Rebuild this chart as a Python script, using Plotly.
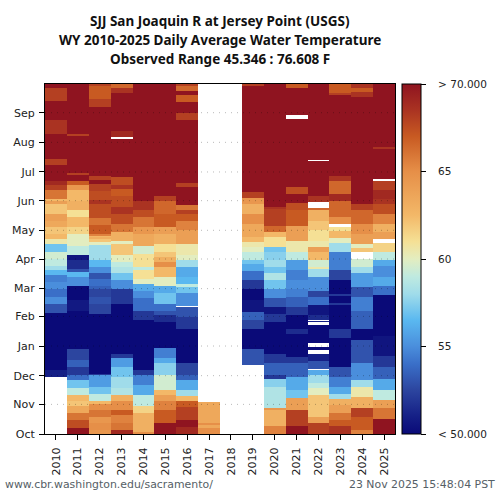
import numpy as np
import plotly.graph_objects as go

# Water years on the x axis, day of water year (0 = 1 Oct) on the y axis.
years = list(range(2010, 2026))
month_days = [0, 31, 61, 92, 123, 152, 183, 213, 244, 274, 305, 336]
month_labels = ["Oct", "Nov", "Dec", "Jan", "Feb", "Mar", "Apr", "May", "Jun", "Jul", "Aug", "Sep"]
title_lines = ["SJJ San Joaquin R at Jersey Point (USGS)",
               "WY 2010-2025 Daily Average Water Temperature",
               "Observed Range 45.346 : 76.608 F"]

# Each year: (last day of the run, temperature F), None where there is no data.
wy2010 = [(60, None), (67, 51), (127, 50), (136, 53), (143, 55), (152, 54), (159, 55), (166, 54.5), (171, 56.5),
          (176, 58), (183, 59), (190, 59.5), (199, 57), (204, 60.5), (209, 62.5), (216, 62), (223, 63.5), (230, 64),
          (240, 62), (244, 64), (246, 62.5), (255, 66), (260, 68), (265, 69), (281, 70), (288, 68), (314, 70),
          (328, 68.5), (348, 70), (362, 68), (366, 70)]
wy2011 = [(6, 70), (15, 67.5), (22, 66), (29, 63.5), (35, 62), (41, 62.5), (48, 59), (56, 57), (62, 54), (70, 52),
          (77, 53.5), (89, 52.5), (129, 50), (140, 50.7), (155, 50), (164, 55), (169, 56.5), (173, 53), (182, 51.5),
          (187, 50.5), (197, 59), (209, 60), (216, 61.5), (227, 62.5), (234, 61), (244, 63), (255, 62.5), (260, 64.5),
          (265, 67), (271, 70), (273, 68), (312, 70), (314, 68), (366, 70)]
wy2012 = [(4, 64.5), (11, 65), (18, 64.5), (25, 66), (31, 65), (34, 62.5), (42, 59), (49, 57), (62, 55.5), (63, 52),
          (126, 50), (136, 52.5), (143, 53), (152, 52.5), (155, 53.5), (162, 54), (168, 53), (175, 55), (182, 56.5),
          (198, 58), (201, 60), (204, 62), (206, 63), (207, 62.5), (209, 65.5), (219, 67), (226, 66), (240, 67.5),
          (245, 68.5), (254, 67.5), (261, 68), (266, 70), (270, 68), (342, 70), (350, 68), (364, 67), (366, 68)]
wy2013 = [(4, 69), (11, 66), (20, 65.5), (25, 67), (35, 65), (41, 63), (48, 58.5), (60, 58), (70, 57), (79, 55.5),
          (84, 52), (136, 50), (152, 52), (161, 55), (168, 57), (175, 58.5), (180, 59), (187, 60), (199, 62),
          (202, 60), (211, 63), (220, 66), (230, 67.5), (237, 68.5), (249, 67.5), (256, 67), (260, 68.5), (269, 67.5),
          (308, 70), (311, None), (317, 69), (357, 70), (362, 68.5), (366, 66.5)]
wy2014 = [(2, 65), (22, 63), (29, 61.5), (41, 59), (51, 56), (62, 54.5), (67, 52), (119, 50), (129, 52), (142, 54),
          (150, 55), (157, 56), (162, 60), (171, 61), (175, 59), (188, 61), (197, 59.5), (209, 63.5), (216, 64.5),
          (227, 66), (234, 67.5), (244, 68.5), (366, 70)]
wy2015 = [(11, 70), (25, 67), (34, 65.5), (41, 64), (46, 62.5), (62, 59.5), (74, 57.5), (79, 56), (90, 54.5), (117, 50),
          (124, 51.5), (129, 53), (136, 54), (147, 57), (155, 56), (164, 60), (175, 62.5), (180, 65), (185, 63),
          (190, 62), (199, 61), (209, 63), (216, 64), (230, 67), (244, 66.5), (249, 68), (366, 70)]
wy2016 = [(7, 69), (15, 70), (28, 68), (34, 67), (40, 62.5), (46, 58), (56, 56), (62, 53.5), (74, 52.5), (110, 50),
          (122, 52), (133, 53), (134, None), (147, 55), (154, 57), (157, 59), (164, 56.5), (175, 56), (182, 58),
          (187, 60), (199, 60.5), (213, 64), (223, 65.5), (230, 67), (234, 68), (239, 66), (258, 70), (262, 68),
          (328, 70), (336, 68), (347, 70), (354, 67), (359, 70), (364, 66.5), (366, 68)]
wy2017 = [(6, 65), (9, 63.5), (11, 65), (33, 63.5), (366, None)]
wy2018 = [(366, None)]
wy2019 = [(72, None), (89, 53), (110, 50), (119, 52.5), (128, 53.5), (140, 50.5), (152, 50), (161, 52), (170, 54),
          (178, 56), (182, 57), (190, 59), (196, 60), (201, 60.5), (206, 62.5), (220, 63.5), (230, 65), (240, 63),
          (247, 64.5), (249, 68), (253, 68), (364, 70), (366, 68)]
wy2020 = [(8, 65.5), (25, 63), (27, 64.5), (49, 58.5), (58, 57.5), (62, 52), (74, 53.5), (84, 52), (117, 50), (126, 52),
          (133, 50.5), (142, 53), (152, 55), (161, 57), (168, 58.5), (175, 57), (182, 58), (190, 57.5), (196, 57),
          (206, 61), (211, 62.5), (218, 66.5), (235, 68), (237, 68.5), (366, 70)]
wy2021 = [(8, 70), (25, 68), (38, 64), (46, 57), (60, 56), (74, 53.5), (81, 52), (105, 50), (110, 51.5), (124, 50),
          (133, 52), (143, 53.5), (152, 54.5), (161, 55), (171, 54.5), (182, 55.5), (190, 59), (202, 60.5), (209, 64),
          (218, 64), (234, 67), (242, 67.5), (251, 70), (258, 67.5), (329, 70), (334, None), (362, 70), (366, 67)]
wy2022 = [(11, 68), (18, 64), (41, 62), (48, 60), (53, 59), (62, 58), (67, 56), (68, None), (76, 53), (84, 51), (88, None),
          (91, 50), (95, None), (114, 50), (117, None), (118, 51), (119, None), (124, 51.5), (135, 50.5), (143, 54),
          (150, 52.5), (164, 55), (173, 58), (175, 60.5), (182, 59.5), (190, 62.5), (196, 64), (202, 60.5), (213, 61),
          (223, 62), (234, 63), (236, 66.5), (243, None), (249, 68.5), (286, 70), (287, None), (366, 70)]
wy2023 = [(8, 68.5), (15, 67), (22, 66), (30, 64), (37, 63), (42, 58), (49, 56), (60, 54.5), (70, 53), (100, 50),
          (110, 52), (135, 50), (137, 52), (144, 50), (146, 52), (161, 50), (171, 52.5), (190, 54.5), (200, 58), (205, 60),
          (212, 62.5), (216, 61), (220, None), (227, 65), (244, 66.5), (251, 69), (265, 66.5), (270, 68.5), (355, 70),
          (357, 68), (366, 67)]
wy2024 = [(4, 65.5), (18, 67), (27, 68), (39, 63), (49, 60.5), (56, 58), (74, 55), (98, 53), (110, 50), (129, 53.5),
          (143, 54.5), (154, 53), (168, 55.5), (175, 58), (183, 59.5), (190, None), (195, 62), (199, 60), (209, 64),
          (220, 65), (234, 66.5), (241, 68), (352, 70), (358, 68.5), (362, 67), (366, 68.5)]
wy2025 = [(16, 70), (27, 66), (36, 64), (46, 59), (58, 56), (70, 53.5), (82, 52), (102, 50.5), (145, 50), (155, 54),
          (164, 56), (176, 55), (182, 56), (190, 59), (200, 61.5), (204, None), (211, 64), (220, 63), (230, 65.5),
          (241, 67.5), (246, 68.5), (255, 69), (265, 68), (267, None), (298, 70), (300, 68.5), (366, 70)]

all_years = [wy2010, wy2011, wy2012, wy2013, wy2014, wy2015, wy2016, wy2017,
             wy2018, wy2019, wy2020, wy2021, wy2022, wy2023, wy2024, wy2025]

# Colour stops.
temp_stops = [50, 51, 52.5, 54, 55, 56.5, 58, 59, 60, 61, 62.5, 65, 67, 68.5, 70]
temp_colors = ["#0a0a78", "#151f86", "#2c459f", "#3a6fc8", "#4a8edc", "#5ab8f0", "#a0dcea", "#bfeae0", "#e3edc0",
               "#f5e095", "#f3b868", "#e68f48", "#c85a22", "#aa3322", "#8f1420"]

day_centers = np.arange(366) + 0.5


def fill_year(runs):
    col = []
    start = 0
    for end, val in runs:
        col += [np.nan if val is None else val] * (end - start)
        start = end
    return col


z = np.array([fill_year(r) for r in all_years]).T

plot_left, plot_right = 44.5, 395.5
plot_top, plot_bottom = 83.5, 434
plot_w = plot_right - plot_left
px_x = lambda p: (p - plot_left) / plot_w
px_y = lambda p: (plot_bottom - p) / (plot_bottom - plot_top)

colorscale = [[(t - 50) / 20, c] for t, c in zip(temp_stops, temp_colors)]
pad = "\u00a0\u00a0\u00a0"

fig = go.Figure(go.Heatmap(
    x=years, y=day_centers, z=z, zmin=50, zmax=70, colorscale=colorscale, hoverongaps=False,
    colorbar=dict(
        thicknessmode="pixels", thickness=18.5, lenmode="fraction", len=1, x=px_x(403), xanchor="left",
        y=0.5, yanchor="middle", xpad=0, ypad=0, outlinewidth=1, outlinecolor="black",
        ticks="outside", ticklen=5, tickwidth=1, tickcolor="black",
        tickvals=[50, 55, 60, 65, 70],
        ticktext=[pad + "&lt; 50.000", pad + "55", pad + "60", pad + "65", pad + "&gt; 70.000"],
        tickfont=dict(family="DejaVu Sans", size=10.5, color="#222222"),
    ),
))

# Dotted month lines sit on top of the cells.
for d in month_days[1:]:
    fig.add_shape(type="line", xref="paper", x0=0, x1=1, yref="y", y0=d, y1=d, layer="above",
                  line=dict(color="rgba(0,0,0,0.28)", width=1, dash="1px,5px"))

tick_font = dict(family="DejaVu Sans", size=11, color="#222222")
footer_font = dict(family="DejaVu Sans", size=10.9, color="#556066")
title_font = dict(family="Noto Sans", size=13.5, color="#111111", weight="bold")

notes = [
    dict(text="www.cbr.washington.edu/sacramento/", xref="paper", yref="paper", x=px_x(2), y=px_y(485),
         xanchor="left", yanchor="middle", showarrow=False, font=footer_font),
    dict(text="23 Nov 2025 15:48:04 PST", xref="paper", yref="paper", x=px_x(498), y=px_y(485),
         xanchor="right", yanchor="middle", showarrow=False, font=footer_font),
]
for i, line in enumerate(title_lines):
    notes.append(dict(text=line, xref="paper", yref="paper", x=px_x(220), y=px_y(20 + 19 * i),
                      xanchor="center", yanchor="middle", showarrow=False, font=title_font))

fig.update_layout(
    width=500, height=500, margin=dict(l=plot_left, r=500 - plot_right, t=plot_top, b=500 - plot_bottom, pad=0),
    paper_bgcolor="white", plot_bgcolor="white",
    xaxis=dict(range=[2009.5, 2025.5], tickvals=years, ticktext=[str(y) for y in years], tickangle=-90,
               ticks="outside", ticklen=5, tickcolor="black", showgrid=False, zeroline=False,
               showline=True, linecolor="black", linewidth=1, mirror=True, tickfont=tick_font,
               ticklabelstandoff=3),
    yaxis=dict(range=[0, 366], tickvals=month_days, ticktext=month_labels,
               ticks="outside", ticklen=5, tickcolor="black", showgrid=False, zeroline=False,
               showline=True, linecolor="black", linewidth=1, mirror=True, tickfont=tick_font,
               ticklabelstandoff=2),
    annotations=notes,
)

fig.write_html("out.html", config={"displayModeBar": False}, post_script="document.body.style.margin='0';")
